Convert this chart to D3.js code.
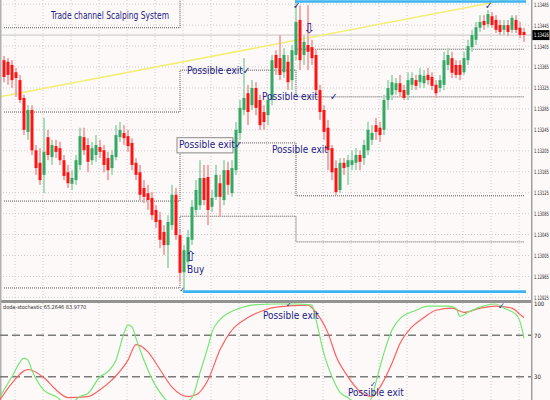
<!DOCTYPE html>
<html>
<head>
<meta charset="utf-8">
<script src="https://d3js.org/d3.v7.min.js"></script>
<style>
  body { margin: 0; background: #fff; }
  text { font-family: 'Liberation Sans Narrow', 'DejaVu Sans Condensed', 'Liberation Sans', sans-serif; }
</style>
</head>
<body>
<div id="chart"></div>
<script>
// EURUSD-like M5 candles
var open = [1.13378,1.13375,1.13369,1.13355,1.13340,1.13306,1.13241,1.13283,1.13206,1.13182,
  1.13159,1.13231,1.13193,1.13214,1.13210,1.13187,1.13164,1.13142,1.13149,1.13178,
  1.13231,1.13216,1.13187,1.13197,1.13212,1.13206,1.13191,1.13172,1.13193,1.13231,
  1.13239,1.13233,1.13220,1.13182,1.13164,1.13134,1.13124,1.13115,1.13092,1.13073,
  1.13050,1.13025,1.13063,1.13121,1.13044,1.12973,1.12993,1.13035,1.13092,1.13101,
  1.13153,1.13155,1.13098,1.13117,1.13143,1.13111,1.13168,1.13124,1.13168,1.13239,
  1.13283,1.13315,1.13292,1.13325,1.13302,1.13279,1.13273,1.13302,1.13388,1.13382,
  1.13355,1.13375,1.13340,1.13388,1.13455,1.13388,1.13407,1.13403,1.13388,1.13321,
  1.13283,1.13249,1.13210,1.13172,1.13130,1.13182,1.13174,1.13178,1.13182,1.13197,
  1.13191,1.13206,1.13226,1.13254,1.13249,1.13245,1.13302,1.13312,1.13321,1.13334,
  1.13321,1.13312,1.13331,1.13340,1.13336,1.13334,1.13350,1.13346,1.13331,1.13325,
  1.13331,1.13369,1.13382,1.13369,1.13369,1.13355,1.13378,1.13403,1.13417,1.13440,
  1.13453,1.13447,1.13462,1.13455,1.13445,1.13436,1.13445,1.13436,1.13455,1.13440,
  1.13432];
var high = [1.13386,1.13382,1.13378,1.13363,1.13350,1.13312,1.13292,1.13292,1.13216,1.13210,
  1.13268,1.13245,1.13226,1.13226,1.13222,1.13197,1.13178,1.13168,1.13197,1.13249,
  1.13249,1.13229,1.13222,1.13235,1.13226,1.13216,1.13203,1.13206,1.13254,1.13260,
  1.13254,1.13245,1.13229,1.13191,1.13178,1.13149,1.13140,1.13126,1.13101,1.13088,
  1.13063,1.13082,1.13140,1.13134,1.13054,1.13025,1.13054,1.13111,1.13149,1.13187,
  1.13178,1.13178,1.13130,1.13178,1.13159,1.13187,1.13184,1.13187,1.13260,1.13302,
  1.13382,1.13331,1.13340,1.13336,1.13312,1.13292,1.13312,1.13388,1.13397,1.13426,
  1.13401,1.13388,1.13407,1.13493,1.13483,1.13426,1.13483,1.13417,1.13397,1.13331,
  1.13292,1.13264,1.13216,1.13187,1.13191,1.13191,1.13197,1.13206,1.13210,1.13206,
  1.13226,1.13260,1.13254,1.13268,1.13260,1.13312,1.13340,1.13350,1.13344,1.13350,
  1.13331,1.13355,1.13355,1.13350,1.13363,1.13359,1.13363,1.13355,1.13340,1.13350,
  1.13394,1.13401,1.13394,1.13378,1.13378,1.13394,1.13417,1.13436,1.13451,1.13464,
  1.13464,1.13474,1.13470,1.13464,1.13455,1.13455,1.13455,1.13464,1.13464,1.13451,
  1.13440];
var low = [1.13336,1.13331,1.13325,1.13308,1.13296,1.13235,1.13226,1.13197,1.13159,1.13140,
  1.13124,1.13187,1.13178,1.13191,1.13178,1.13149,1.13134,1.13130,1.13140,1.13168,
  1.13197,1.13164,1.13178,1.13184,1.13191,1.13164,1.13149,1.13159,1.13187,1.13222,
  1.13216,1.13203,1.13168,1.13149,1.13111,1.13105,1.13092,1.13073,1.13058,1.13019,
  1.13006,1.12981,1.13054,1.13035,1.12954,1.12935,1.12981,1.13025,1.13082,1.13092,
  1.13101,1.13063,1.13088,1.13111,1.13079,1.13101,1.13121,1.13117,1.13159,1.13226,
  1.13273,1.13254,1.13283,1.13273,1.13245,1.13245,1.13254,1.13292,1.13350,1.13340,
  1.13344,1.13321,1.13321,1.13378,1.13359,1.13369,1.13359,1.13369,1.13312,1.13264,
  1.13226,1.13168,1.13149,1.13121,1.13124,1.13159,1.13140,1.13168,1.13168,1.13168,
  1.13178,1.13197,1.13216,1.13226,1.13222,1.13235,1.13283,1.13302,1.13312,1.13308,
  1.13302,1.13302,1.13321,1.13321,1.13325,1.13325,1.13331,1.13321,1.13306,1.13317,
  1.13321,1.13359,1.13344,1.13344,1.13340,1.13350,1.13369,1.13394,1.13407,1.13432,
  1.13436,1.13440,1.13440,1.13430,1.13426,1.13426,1.13424,1.13430,1.13430,1.13420,
  1.13413];
var close = [1.13346,1.13350,1.13340,1.13344,1.13302,1.13245,1.13283,1.13206,1.13172,1.13149,
  1.13203,1.13197,1.13216,1.13203,1.13187,1.13157,1.13143,1.13153,1.13187,1.13233,
  1.13206,1.13184,1.13210,1.13216,1.13203,1.13178,1.13168,1.13197,1.13235,1.13245,
  1.13229,1.13214,1.13178,1.13159,1.13121,1.13117,1.13111,1.13082,1.13069,1.13035,
  1.13025,1.13069,1.13121,1.13044,1.12972,1.13015,1.13040,1.13098,1.13130,1.13153,
  1.13111,1.13092,1.13115,1.13159,1.13117,1.13168,1.13140,1.13172,1.13245,1.13287,
  1.13306,1.13279,1.13325,1.13287,1.13254,1.13260,1.13302,1.13378,1.13363,1.13350,
  1.13388,1.13336,1.13397,1.13451,1.13378,1.13413,1.13394,1.13382,1.13321,1.13279,
  1.13241,1.13206,1.13164,1.13126,1.13182,1.13172,1.13187,1.13187,1.13197,1.13184,
  1.13216,1.13245,1.13239,1.13241,1.13235,1.13302,1.13325,1.13336,1.13334,1.13317,
  1.13306,1.13340,1.13344,1.13329,1.13350,1.13348,1.13340,1.13329,1.13315,1.13340,
  1.13378,1.13388,1.13354,1.13350,1.13350,1.13382,1.13405,1.13426,1.13441,1.13451,
  1.13445,1.13466,1.13445,1.13436,1.13432,1.13445,1.13432,1.13459,1.13436,1.13426,
  1.13426];

var priceTicks = [1.13485,1.13445,1.13405,1.13365,1.13325,1.13285,1.13245,1.13205,
  1.13165,1.13125,1.13085,1.13045,1.13005,1.12965,1.12925];
var bidPrice = 1.13426;

// trade channel steps (bar where each step starts, levels per step)
var channelBars = [0, 44, 73, 130];
var chanLevel1 = [1.13440, 1.13499, 1.13399];
var chanLevel2 = [1.13279, 1.13359, 1.13308];
var chanLevel3 = [1.13109, 1.13220, 1.13119];
var chanLevel4 = [1.12943, 1.13080, 1.13031];

var supportBar = 45, supportPrice = 1.12936;
var resistBar = 73, resistPrice = 1.13490;
var trendBars = [-1, 131], trendPrices = [1.13308, 1.13501];

// stochastic
var mainBars = [-1,2,5,6,7,10,13,16,19,21,24,26,28,30,31,32,33,35,37,40,43,47,49,51,52,54,56,59,62,68,
  73,77,78,80,82,84,86,89,92,93,95,97,99,103,106,108,111,113,114,116,119,123,125,128,129,130];
var mainVals = [11,30,48,46,36,17,11,3,11,14,30,35,46,72,80,78,67,46,28,10,1,10,34,59,73,85,91,96,99,100,
  100,99,85,52,30,15,10,1,10,25,53,75,86,94,98,98,98,96,88,92,97,100,96,90,83,67];
var signalBars = [-1,2,6,10,13,16,21,24,27,31,33,36,39,42,46,48,51,54,57,61,65,68,76,78,81,83,86,89,92,94,
  97,99,102,105,108,112,115,119,123,127,129,130];
var signalVals = [8,24,37,29,17.5,10,11,17.5,27,46,61,54,37,20,11,12.7,27,56,75,87,94,97,99,92,72,50,30,16,11,20,
  43,62,78,87,94,96,92,96,98,96,90,87];
var stochTicks = [100, 70, 30];
var stochLevels = [70, 30];

(function(){
  var width = 550, height = 400, axisX = 531;
  var ink = '#1c1c8a';
  var squeeze = 'translate(3,0) scale(0.66,1)';

  var svg = d3.select('#chart').append('svg')
    .attr('width', width).attr('height', height);

  svg.append('rect').attr('width', width).attr('height', height).attr('fill', '#fdf9f8');

  var x = d3.scaleLinear().domain([0, open.length - 1]).range([4, 524]);
  var y = d3.scaleLinear().domain([1.12920, 1.13493]).range([300, 0]);
  var ys = d3.scaleLinear().domain([0, 100]).range([408, 304]);

  var defs = svg.append('defs');
  defs.append('clipPath').attr('id', 'clipP').append('rect')
    .attr('x', 0).attr('y', 0).attr('width', axisX).attr('height', 300);
  defs.append('clipPath').attr('id', 'clipS').append('rect')
    .attr('x', 0).attr('y', 303).attr('width', axisX).attr('height', 97);

  // grid
  var gridBars = d3.range(3, open.length, 7);
  svg.append('g').selectAll('line').data(gridBars).join('line')
    .attr('x1', d => x(d) - 1).attr('x2', d => x(d) - 1)
    .attr('y1', 0).attr('y2', height)
    .attr('stroke', '#cdcdcd').attr('stroke-dasharray', '1,2');
  svg.append('g').selectAll('line').data(priceTicks).join('line')
    .attr('x1', 0).attr('x2', axisX)
    .attr('y1', d => y(d)).attr('y2', d => y(d))
    .attr('stroke', '#cdcdcd').attr('stroke-dasharray', '1,2');

  var price = svg.append('g').attr('clip-path', 'url(#clipP)');

  // bid line
  price.append('line').attr('x1', 0).attr('x2', axisX)
    .attr('y1', y(bidPrice)).attr('y2', y(bidPrice))
    .attr('stroke', '#c4c4c4');

  // yellow trend line
  price.append('line')
    .attr('x1', x(trendBars[0])).attr('y1', y(trendPrices[0]))
    .attr('x2', x(trendBars[1])).attr('y2', y(trendPrices[1]))
    .attr('stroke', '#f3ef74').attr('stroke-width', 1.5);

  // channel steps
  var stepLine = d3.line().curve(d3.curveStepAfter).x(d => x(d[0])).y(d => y(d[1]));
  [chanLevel1, chanLevel2, chanLevel3, chanLevel4].forEach(function(lv){
    var pts = channelBars.map((b, k) => [b, lv[Math.min(k, lv.length - 1)]]);
    price.append('path').attr('d', stepLine(pts))
      .attr('fill', 'none').attr('stroke', '#555')
      .attr('stroke-dasharray', '1,1');
  });

  // candles
  var bars = d3.range(open.length).map(i => ({i: i, o: open[i], h: high[i], l: low[i], c: close[i]}));
  price.append('g').selectAll('rect').data(bars).join('rect')
    .attr('x', d => x(d.i) - 1).attr('width', 2)
    .attr('y', d => y(d.h)).attr('height', d => y(d.l) - y(d.h))
    .attr('fill', d => d.c >= d.o ? '#a9dcbc' : '#f6aaaa');
  price.append('g').selectAll('rect').data(bars).join('rect')
    .attr('x', d => x(d.i) - 1.5).attr('width', 3)
    .attr('y', d => y(Math.max(d.o, d.c)))
    .attr('height', d => Math.max(1, Math.abs(y(d.o) - y(d.c))))
    .attr('fill', d => d.c >= d.o ? '#34a864' : '#ff1414');

  // support / resistance
  price.append('line')
    .attr('x1', x(supportBar) - 1).attr('x2', x(open.length - 0.5))
    .attr('y1', y(supportPrice)).attr('y2', y(supportPrice))
    .attr('stroke', '#3ab4f2').attr('stroke-width', 2.6);
  price.append('line')
    .attr('x1', x(resistBar) - 1).attr('x2', x(open.length - 0.5))
    .attr('y1', y(resistPrice)).attr('y2', y(resistPrice))
    .attr('stroke', '#3ab4f2').attr('stroke-width', 2.6);

  // annotations
  var box = price.append('g');
  box.append('rect')
    .attr('x', x(43.25)).attr('y', y(1.13230))
    .attr('width', x(57.25) - x(43.25)).attr('height', y(1.13201) - y(1.13230))
    .attr('fill', '#fdf9f8').attr('stroke', '#8a8a8a');

  var notes = [
    {t: 'Possible exit\u2713', b: 45.75, p: 1.13357, s: 10},
    {t: 'Possible exit', b: 64.5, p: 1.13308, s: 10},
    {t: '\u2713', b: 81.5, p: 1.13308, s: 10},
    {t: 'Possible exit\u2713', b: 43.75, p: 1.13216, s: 10},
    {t: 'Possible exit', b: 67, p: 1.13207, s: 10},
    {t: '\u21e7', b: 45.2, p: 1.13003, s: 14, f: 'DejaVu Sans'},
    {t: 'Buy', b: 45.75, p: 1.12977, s: 10},
    {t: '\u21e9', b: 74.8, p: 1.13438, s: 14, f: 'DejaVu Sans'},
    {t: '\u2713', b: 72.25, p: 1.13482, s: 10},
    {t: '\u2713', b: 120.25, p: 1.13481, s: 10},
    {t: '\u2713', b: 43.9, p: 1.12938, s: 7}
  ];
  price.append('g').selectAll('text').data(notes).join('text')
    .attr('x', d => x(d.b)).attr('y', d => y(d.p))
    .attr('dominant-baseline', 'middle')
    .attr('font-size', d => d.s).attr('fill', ink)
    .style('font-family', d => d.f || null)
    .text(d => d.t);

  svg.append('text').attr('x', 51).attr('y', 16)
    .attr('dominant-baseline', 'middle').attr('font-size', 10.5).attr('fill', ink)
    .attr('textLength', 118).attr('lengthAdjust', 'spacingAndGlyphs')
    .text('Trade channel Scalping System');

  // price axis
  var yAxis = d3.axisRight(y).tickValues(priceTicks).tickFormat(d3.format('.5f'))
    .tickSize(0).tickPadding(0);
  var ga = svg.append('g').attr('transform', 'translate(' + axisX + ',0)').call(yAxis);
  ga.select('.domain').remove();
  ga.selectAll('text').attr('font-size', 6).attr('fill', '#222')
    .attr('x', 0).attr('transform', squeeze);

  var bidG = svg.append('g').attr('transform', 'translate(' + axisX + ',' + y(bidPrice) + ')');
  bidG.append('rect').attr('x', 1).attr('y', -5).attr('width', 17.5).attr('height', 10).attr('fill', '#000');
  bidG.append('text').attr('dominant-baseline', 'middle')
    .attr('font-size', 6).attr('fill', '#fff').attr('transform', squeeze)
    .text(d3.format('.5f')(bidPrice));

  // panel separator & borders
  svg.append('rect').attr('x', 0).attr('y', 300).attr('width', axisX).attr('height', 3).attr('fill', '#939393');
  svg.append('rect').attr('x', 0).attr('y', 0).attr('width', 1.5).attr('height', height).attr('fill', '#b0b0b0');
  svg.append('rect').attr('x', axisX).attr('y', 0).attr('width', 1.5).attr('height', height).attr('fill', '#a0a0a0');

  // stochastic panel
  var stoch = svg.append('g').attr('clip-path', 'url(#clipS)');
  stoch.selectAll('line.lvl').data(stochLevels).join('line')
    .attr('class', 'lvl')
    .attr('x1', 0).attr('x2', axisX)
    .attr('y1', d => ys(d)).attr('y2', d => ys(d))
    .attr('stroke', '#7a7a7a').attr('stroke-width', 1.6).attr('stroke-dasharray', '8,4');

  var sLine = d3.line().curve(d3.curveMonotoneX).x(d => x(d[0])).y(d => ys(d[1]));
  stoch.append('path').attr('d', sLine(signalBars.map((b, k) => [b, signalVals[k]])))
    .attr('fill', 'none').attr('stroke', '#ff6060').attr('stroke-width', 1.2);
  stoch.append('path').attr('d', sLine(mainBars.map((b, k) => [b, mainVals[k]])))
    .attr('fill', 'none').attr('stroke', '#72e872').attr('stroke-width', 1.2);

  var sNotes = [
    {t: 'Possible exit', b: 64.75, v: 88, s: 10},
    {t: '\u2713', b: 70.5, v: 100, s: 8},
    {t: '\u2713', b: 123.5, v: 98, s: 9},
    {t: 'Possible exit', b: 86, v: 14, s: 10},
    {t: '\u2713', b: 91.5, v: 23, s: 8}
  ];
  stoch.append('g').selectAll('text').data(sNotes).join('text')
    .attr('x', d => x(d.b)).attr('y', d => ys(d.v))
    .attr('dominant-baseline', 'middle').attr('font-size', d => d.s).attr('fill', ink)
    .text(d => d.t);

  svg.append('text').attr('x', 3).attr('y', 307).attr('dominant-baseline', 'middle')
    .attr('font-size', 5.5).attr('fill', '#333')
    .text('doda-stochastic 65.2646 83.9770');

  var sAxis = d3.axisRight(ys).tickValues(stochTicks).tickSize(0).tickPadding(3);
  var gs = svg.append('g').attr('transform', 'translate(' + axisX + ',0)').call(sAxis);
  gs.select('.domain').remove();
  gs.selectAll('text').attr('font-size', 6).attr('fill', '#222');
})();
</script>
</body>
</html>
